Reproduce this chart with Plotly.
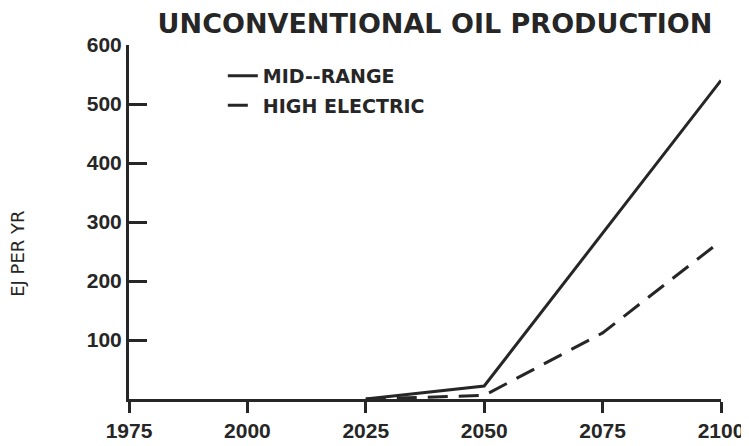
import plotly.graph_objects as go

# values (EJ per year)
years_mid = [2025, 2050, 2100]
mid_range = [0, 22, 540]

years_high = [2025, 2050, 2075, 2100]
high_electric = [0, 6, 112, 268]

x_ticks = [1975, 2000, 2025, 2050, 2075, 2100]
y_ticks = [100, 200, 300, 400, 500, 600]

ink = "#262626"
font = "Liberation Sans"
wide = "DejaVu Sans"

fig = go.Figure()
fig.add_trace(go.Scatter(x=years_mid, y=mid_range, mode="lines",
                         name="MID--RANGE", legendgroup="a",
                         line=dict(color=ink, width=3)))
fig.add_trace(go.Scatter(x=years_high, y=high_electric, mode="lines",
                         name="HIGH ELECTRIC", legendgroup="b",
                         line=dict(color=ink, width=3, dash="20px,11px")))

# page body adds 8px margin, so margins are shifted to compensate
fig.update_layout(
    width=749, height=446,
    margin=dict(l=121, r=36, t=37, b=53),
    paper_bgcolor="white", plot_bgcolor="white",
    font=dict(family=font, color=ink, size=15),
    title=dict(text="<b>UNCONVENTIONAL OIL PRODUCTION</b>",
               x=0.570, xanchor="center", y=0.966, yanchor="middle",
               font=dict(size=27, family=wide, color=ink)),
    showlegend=True,
    legend=dict(x=0.1585, y=0.9666, xanchor="left", yanchor="top",
                bgcolor="rgba(0,0,0,0)", tracegroupgap=2,
                traceorder="grouped",
                font=dict(size=19, family=wide, color=ink, weight="bold")),
    annotations=[dict(text="EJ PER YR", textangle=-90,
                      x=-0.1875, xref="paper", y=0.41, yref="paper",
                      showarrow=False, xanchor="center", yanchor="middle",
                      font=dict(size=18, family=wide, color=ink))],
)

fig.update_xaxes(range=[1975, 2100], tickvals=x_ticks,
                 ticktext=["<b>%d</b>" % t for t in x_ticks],
                 showgrid=False, zeroline=False,
                 showline=True, linecolor=ink, linewidth=3,
                 ticks="outside", ticklen=11, tickwidth=3, tickcolor=ink,
                 tickfont=dict(size=21, family=font, color=ink))
fig.update_yaxes(range=[0, 600], tickvals=y_ticks,
                 ticktext=["<b>%d</b>" % t for t in y_ticks],
                 showgrid=False, zeroline=False,
                 showline=True, linecolor=ink, linewidth=3,
                 ticks="inside", ticklen=18, tickwidth=3, tickcolor=ink,
                 tickfont=dict(size=21, family=font, color=ink))

fig.write_html("out.html")
